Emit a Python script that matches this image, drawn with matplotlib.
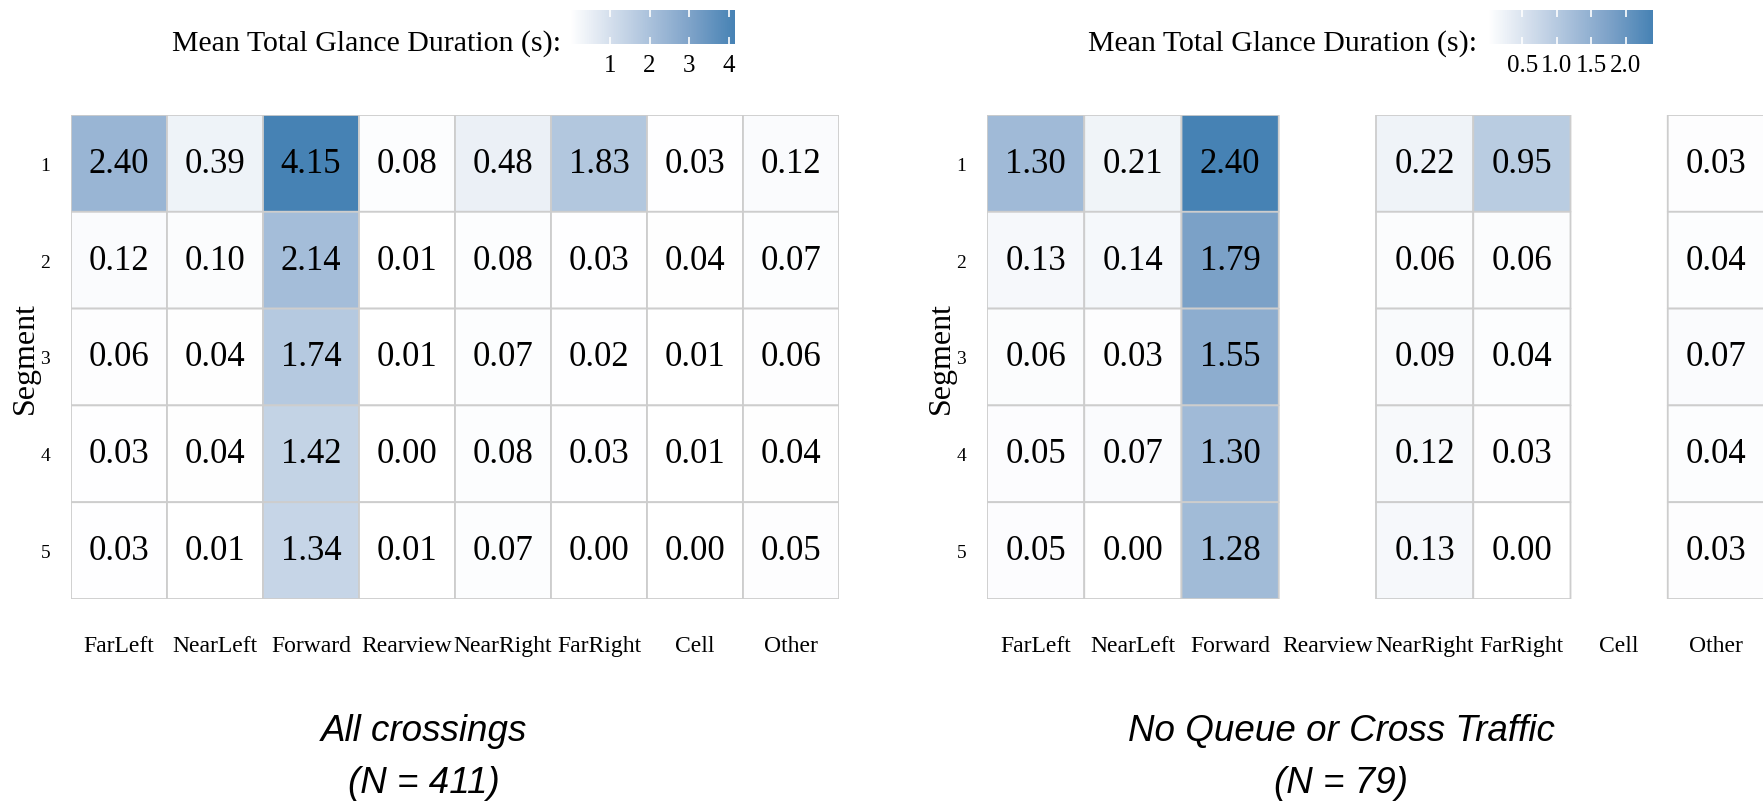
import numpy as np
import matplotlib
matplotlib.use("Agg")
import matplotlib.pyplot as plt
from matplotlib.colors import LinearSegmentedColormap

plt.rcParams["font.family"] = ["Liberation Serif", "DejaVu Serif"]

areas = ["FarLeft", "NearLeft", "Forward", "Rearview", "NearRight", "FarRight", "Cell", "Other"]
segments = ["1", "2", "3", "4", "5"]

# all crossings (N = 411)
all_vals = np.array([
    [2.40, 0.39, 4.15, 0.08, 0.48, 1.83, 0.03, 0.12],
    [0.12, 0.10, 2.14, 0.01, 0.08, 0.03, 0.04, 0.07],
    [0.06, 0.04, 1.74, 0.01, 0.07, 0.02, 0.01, 0.06],
    [0.03, 0.04, 1.42, 0.00, 0.08, 0.03, 0.01, 0.04],
    [0.03, 0.01, 1.34, 0.01, 0.07, 0.00, 0.00, 0.05],
])

# no queue or cross traffic (N = 79); Rearview and Cell not observed
nq_vals = np.array([
    [1.30, 0.21, 2.40, np.nan, 0.22, 0.95, np.nan, 0.03],
    [0.13, 0.14, 1.79, np.nan, 0.06, 0.06, np.nan, 0.04],
    [0.06, 0.03, 1.55, np.nan, 0.09, 0.04, np.nan, 0.07],
    [0.05, 0.07, 1.30, np.nan, 0.12, 0.03, np.nan, 0.04],
    [0.05, 0.00, 1.28, np.nan, 0.13, 0.00, np.nan, 0.03],
])

left_ticks = [1, 2, 3, 4]
right_ticks = [0.5, 1.0, 1.5, 2.0]
right_ticklabels = ["0.5", "1.0", "1.5", "2.0"]

captions = [("All crossings", "(N = 411)"), ("No Queue or Cross Traffic", "(N = 79)")]

# white -> steelblue, roughly Lab interpolated like ggplot
cmap = LinearSegmentedColormap.from_list(
    "glance", ["#ffffff", "#d3deec", "#a7bfda", "#7aa0c7", "#4682b4"])

W, H = 1763, 803
fig = plt.figure(figsize=(W / 100, H / 100), dpi=100)


def px(x0, y0, w, h):
    # pixel box (top-left origin) -> figure fraction
    return [x0 / W, (H - y0 - h) / H, w / W, h / H]


def heat(ax_box, vals, cbar_box, title_x, ticks, ticklabels, cap_x, cap):
    ax = fig.add_axes(px(*ax_box))
    data = np.ma.masked_invalid(vals)
    mesh = ax.pcolor(data, cmap=cmap, vmin=np.nanmin(vals), vmax=np.nanmax(vals),
                     edgecolors="#cdcdcd", linewidth=1.3)
    ax.set_xlim(0, vals.shape[1])
    ax.set_ylim(vals.shape[0], 0)
    for i in range(vals.shape[0]):
        for j in range(vals.shape[1]):
            if not np.isnan(vals[i, j]):
                ax.text(j + 0.5, i + 0.5, f"{vals[i, j]:.2f}", ha="center", va="center",
                        fontsize=25)
    ax.set_xticks(np.arange(len(areas)) + 0.5)
    ax.set_xticklabels(areas, fontsize=17)
    ax.set_yticks(np.arange(len(segments)) + 0.5)
    ax.set_yticklabels(segments, fontsize=14)
    ax.tick_params(length=0)
    ax.tick_params(axis="x", pad=26)
    ax.tick_params(axis="y", pad=15)
    ax.set_ylabel("Segment", fontsize=23, labelpad=0)
    for s in ax.spines.values():
        s.set_visible(False)

    cax = fig.add_axes(px(*cbar_box))
    cb = fig.colorbar(mesh, cax=cax, orientation="horizontal")
    cb.outline.set_visible(False)
    cb.set_ticks(ticks)
    cb.set_ticklabels(ticklabels)
    cax.tick_params(direction="in", color="white", length=5, width=1.2,
                    top=True, bottom=True, labelsize=18, pad=7)
    fig.text(title_x / W, 1 - 44 / H, "Mean Total Glance Duration (s):",
             ha="right", va="center", fontsize=21.5)

    fig.text(cap_x / W, 1 - 732 / H, cap[0], ha="center", va="center", fontsize=26.5,
             style="italic", family="Liberation Sans")
    fig.text(cap_x / W, 1 - 784 / H, cap[1], ha="center", va="center", fontsize=26.5,
             style="italic", family="Liberation Sans")


heat((71, 116, 768, 484), all_vals, (570, 11, 165, 34), 561,
     left_ticks, [str(t) for t in left_ticks], 424, captions[0])
heat((987, 116, 778, 484), nq_vals, (1488, 11, 165, 34), 1477,
     right_ticks, right_ticklabels, 1341, captions[1])

fig.savefig("out.png", dpi=100, facecolor="white")
